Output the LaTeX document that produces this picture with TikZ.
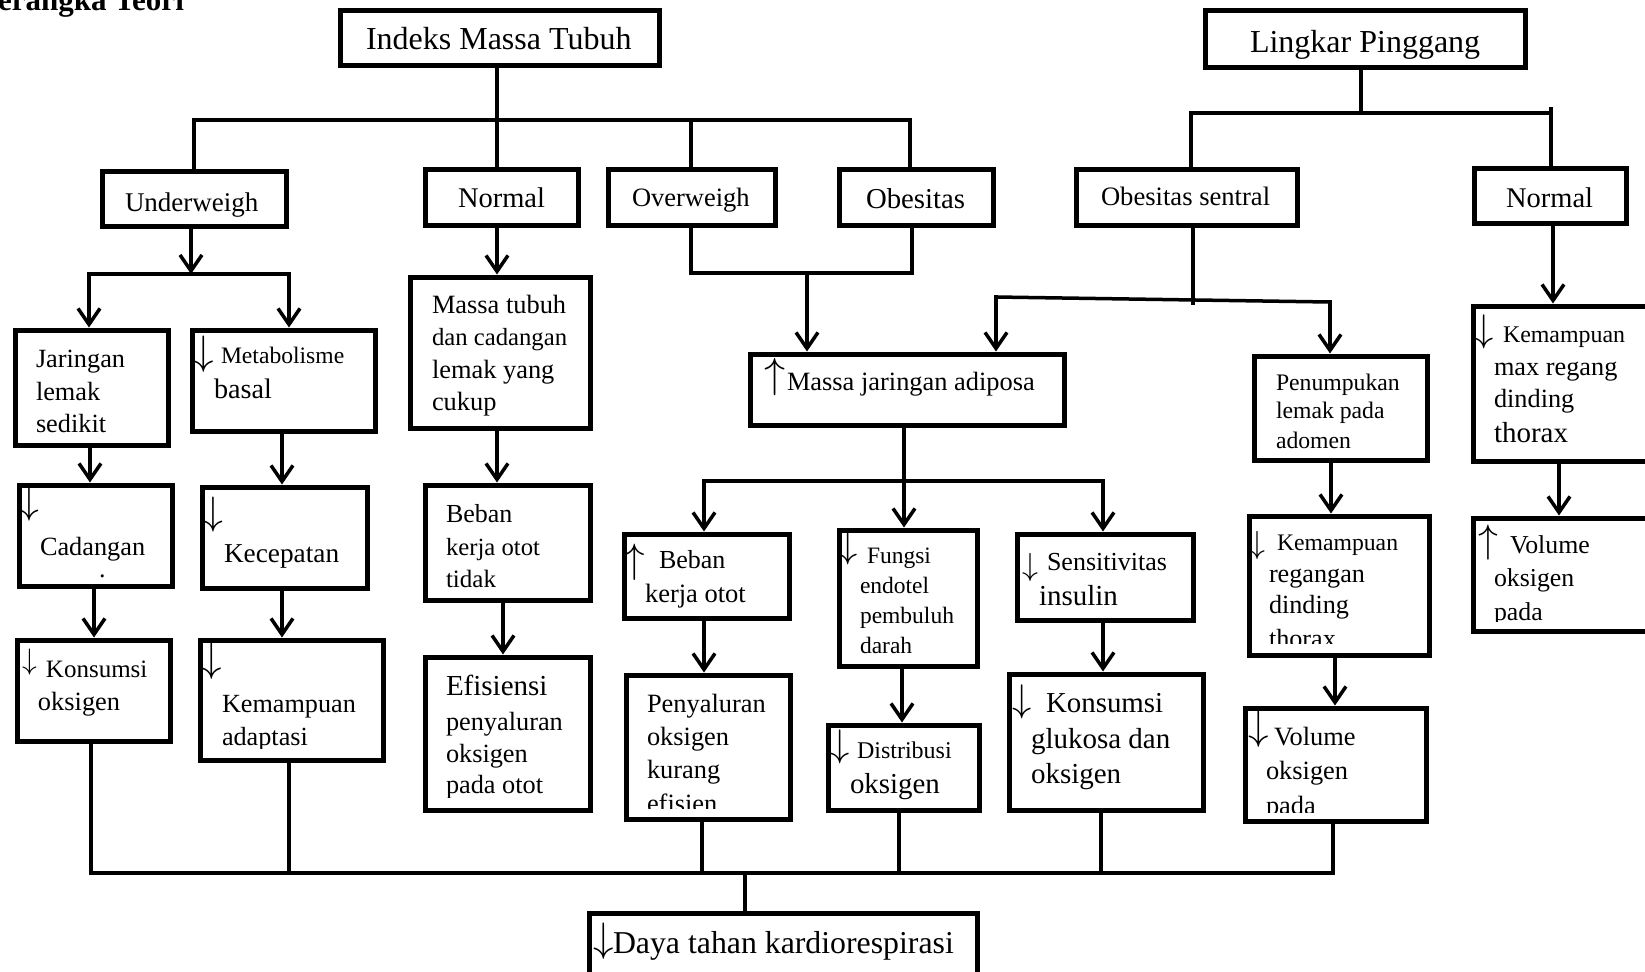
\documentclass[tikz,border=0pt]{standalone}
\usepackage{fix-cm}
\usepackage{fontspec}
\setmainfont{Liberation Serif}
\usetikzlibrary{arrows.meta,fit}
\newcounter{tn}
\newcommand\txl[4]{\stepcounter{tn}\node[tx,font=\fontsize{#3}{#3}\selectfont] (t\arabic{tn}) at (#1,#2) {#4};}
\newcommand\sym[4]{\stepcounter{tn}\pgfmathsetmacro\symsz{#3*1.14}\node[sa,font=\fontsize{\symsz}{\symsz}\selectfont] (s\arabic{tn}) at (#1,#2) {$#4$};}
\newcommand\bxn[5]{\node[bx,fit={(#2,#3) (#4,#5)}] (#1) {};}
\begin{document}
\begin{tikzpicture}[x=0.5pt,y=-0.5pt,
  bx/.style={draw, line width=2.5pt, inner sep=0pt, rectangle},
  ln/.style={line width=1.75pt, line cap=rect},
  ar/.style={ln, -{Straight Barb[length=8pt,width=11pt]}},
  tx/.style={anchor=base west, inner sep=0pt, outer sep=0pt},
  sa/.style={inner sep=0pt, outer sep=0pt}]
\clip (0,0) rectangle (1645,971);
\fill[white] (0,0) rectangle (1645,971);
\txl{-26}{10}{15.5}{\bfseries Kerangka Teori}
% boxes
\bxn{imt}{340}{10}{659}{65}
\bxn{lp}{1205}{10}{1525}{67}
\bxn{under}{102}{171}{286}{226}
\bxn{norma}{425}{169}{578}{225}
\bxn{over}{608}{169}{775}{225}
\bxn{obes}{839}{169}{993}{225}
\bxn{osen}{1076}{169}{1297}{225}
\bxn{normb}{1474}{168}{1626}{223}
\bxn{jar}{15}{330}{168}{445}
\bxn{meta}{192}{330}{375}{431}
\bxn{massa}{410}{277}{590}{428}
\bxn{cad}{19}{485}{172}{586}
\bxn{kec}{202}{487}{367}{588}
\bxn{btid}{425}{485}{590}{600}
\bxn{konsa}{17}{640}{170}{741}
\bxn{kemad}{200}{640}{383}{760}
\bxn{efis}{425}{657}{590}{810}
\bxn{adip}{750}{354}{1064}{425}
\bxn{bebb}{624}{534}{789}{618}
\bxn{fung}{839}{530}{977}{666}
\bxn{sens}{1017}{534}{1193}{620}
\bxn{peny}{626}{675}{790}{819}
\bxn{dist}{828}{725}{979}{810}
\bxn{kglu}{1009}{674}{1203}{810}
\bxn{daya}{589}{913}{977}{1010}
\bxn{penu}{1254}{356}{1427}{460}
\bxn{kemreg}{1249}{516}{1429}{655}
\bxn{vola}{1245}{708}{1426}{821}
\bxn{kemmax}{1473}{306}{1700}{461}
\bxn{volb}{1473}{518}{1700}{631}
% IMT tree
\draw[ln] (497,0 |- imt.south) -- (497,120);
\draw[ln] (194,0 |- under.north) |- (910,120) -- (910,0 |- obes.north);
\draw[ln] (497,0 |- norma.north) -- (497,120);
\draw[ln] (691,0 |- over.north) -- (691,120);
% underweigh
\draw[ar] (191,0 |- under.south) -- (191,274);
\draw[ar] (191,274) -| (89,0 |- jar.north);
\draw[ar] (191,274) -| (289,0 |- meta.north);
\draw[ar] (90,0 |- jar.south) -- (90,0 |- cad.north);
\draw[ar] (94,0 |- cad.south) -- (94,0 |- konsa.north);
\draw[ar] (282,0 |- meta.south) -- (282,0 |- kec.north);
\draw[ar] (282,0 |- kec.south) -- (282,0 |- kemad.north);
% normal
\draw[ar] (497,0 |- norma.south) -- (497,0 |- massa.north);
\draw[ar] (497,0 |- massa.south) -- (497,0 |- btid.north);
\draw[ar] (503,0 |- btid.south) -- (503,0 |- efis.north);
% bottom bus
\draw[ln] (91,0 |- konsa.south) |- (1333,873) -- (1333,0 |- vola.south);
\draw[ln] (289,0 |- kemad.south) -- (289,873);
\draw[ln] (702,0 |- peny.south) -- (702,873);
\draw[ln] (899,0 |- dist.south) -- (899,873);
\draw[ln] (1101,0 |- kglu.south) -- (1101,873);
\draw[ln] (745,873) -- (745,0 |- daya.north);
% overweigh / obesitas
\draw[ln] (691,0 |- over.south) |- (912,273) -- (912,0 |- obes.south);
\draw[ar] (807,273) -- (807,0 |- adip.north);
% obesitas sentral
\draw[ln] (1193,0 |- osen.south) -- (1193,303);
\draw[ln] (996,297) -- (1330,302);
\draw[ar] (996,297) -- (996,0 |- adip.north);
\draw[ar] (1330,302) -- (1330,0 |- penu.north);
% adiposa
\draw[ln] (904,0 |- adip.south) -- (904,481);
\draw[ln] (704,481) -- (1103,481);
\draw[ar] (704,481) -- (704,0 |- bebb.north);
\draw[ar] (904,481) -- (904,0 |- fung.north);
\draw[ar] (1103,481) -- (1103,0 |- sens.north);
\draw[ar] (704,0 |- bebb.south) -- (704,0 |- peny.north);
\draw[ar] (902,0 |- fung.south) -- (902,0 |- dist.north);
\draw[ar] (1103,0 |- sens.south) -- (1103,0 |- kglu.north);
\draw[ar] (1331,0 |- penu.south) -- (1331,0 |- kemreg.north);
\draw[ar] (1335,0 |- kemreg.south) -- (1335,0 |- vola.north);
% lingkar pinggang
\draw[ln] (1361,0 |- lp.south) -- (1361,113);
\draw[ln] (1191,0 |- osen.north) |- (1551,113);
\draw[ln] (1551,109) -- (1551,0 |- normb.north);
\draw[ar] (1553,0 |- normb.south) -- (1553,0 |- kemmax.north);
\draw[ar] (1559,0 |- kemmax.south) -- (1559,0 |- volb.north);
% texts
\txl{366}{49}{16}{Indeks Massa Tubuh}
\txl{1250}{52}{16}{Lingkar Pinggang}
\txl{125}{211}{13.5}{Underweigh}
\txl{458}{207}{14.25}{Normal}
\txl{632}{206}{13.25}{Overweigh}
\txl{866}{208}{14.4}{Obesitas}
\txl{1101}{205}{13.3}{Obesitas sentral}
\txl{1506}{207}{14.25}{Normal}
\txl{36}{367}{13.15}{Jaringan}
\txl{36}{400}{13.15}{lemak}
\txl{36}{432}{13.15}{sedikit}
\sym{203.5}{354}{18}{\downarrow}
\txl{221}{363}{11.8}{Metabolisme}
\txl{214}{398}{14.1}{basal}
\txl{432}{313}{13.2}{Massa tubuh}
\txl{432}{345}{12.35}{dan cadangan}
\txl{432}{378}{13.2}{lemak yang}
\txl{432}{410}{13.2}{cukup}
\sym{29.5}{503.5}{17.4}{\downarrow}
\txl{40}{555}{13.15}{Cadangan}
\txl{99}{577}{13}{.}
\sym{213.5}{514.5}{17.4}{\downarrow}
\txl{224}{562}{13.65}{Kecepatan}
\txl{446}{522}{13}{Beban}
\txl{446}{555}{12.35}{kerja otot}
\txl{446}{587}{12.5}{tidak}
\sym{29.5}{662.5}{13}{\downarrow}
\txl{46}{677}{12.5}{Konsumsi}
\txl{38}{710}{13.2}{oksigen}
\sym{212}{661}{18}{\downarrow}
\txl{222}{712}{13.1}{Kemampuan}
\begin{scope}
\clip (200,640) rectangle (383,748);
\txl{222}{745}{13.1}{adaptasi}
\end{scope}
\txl{446}{695}{14.5}{Efisiensi}
\txl{446}{730}{13.15}{penyaluran}
\txl{446}{762}{13.15}{oksigen}
\begin{scope}
\clip (425,657) rectangle (590,797);
\txl{446}{793}{13.15}{pada otot}
\end{scope}
\sym{775}{376.5}{18.5}{\uparrow}
\txl{787}{390}{13.2}{Massa jaringan adiposa}
\sym{634.5}{562}{18}{\uparrow}
\txl{659}{568}{13}{Beban}
\txl{645}{602}{13.25}{kerja otot}
\sym{848.5}{548}{16.9}{\downarrow}
\txl{867}{563}{11.75}{Fungsi}
\txl{860}{593}{11.75}{endotel}
\txl{860}{623}{11.75}{pembuluh}
\txl{860}{653}{11.75}{darah}
\sym{1030}{567.5}{14}{\downarrow}
\txl{1047}{570}{13}{Sensitivitas}
\txl{1039}{605}{14.5}{insulin}
\txl{647}{712}{13.2}{Penyaluran}
\txl{647}{745}{13.2}{oksigen}
\txl{647}{778}{13.2}{kurang}
\begin{scope}
\clip (626,675) rectangle (790,808);
\txl{647}{812}{13.2}{efisien}
\end{scope}
\sym{840}{747}{16.9}{\downarrow}
\txl{857}{758}{12}{Distribusi}
\txl{850}{793}{14.45}{oksigen}
\sym{1022}{702}{16.9}{\downarrow}
\txl{1046}{712}{14.45}{Konsumsi}
\txl{1031}{748}{14.5}{glukosa dan}
\txl{1031}{783}{14.5}{oksigen}
\sym{604}{941}{18}{\downarrow}
\txl{613}{953}{15.9}{Daya tahan kardiorespirasi}
\txl{1276}{390}{11.85}{Penumpukan}
\txl{1276}{418}{11.85}{lemak pada}
\txl{1276}{448}{11.85}{adomen}
\sym{1484}{332}{16.9}{\downarrow}
\txl{1503}{342}{11.95}{Kemampuan}
\txl{1494}{375}{13.15}{max regang}
\txl{1494}{407}{13.15}{dinding}
\txl{1494}{442}{14.5}{thorax}
\sym{1257}{545.5}{14}{\downarrow}
\txl{1277}{550}{11.85}{Kemampuan}
\txl{1269}{582}{13.1}{regangan}
\txl{1269}{613}{13.1}{dinding}
\begin{scope}
\clip (1249,516) rectangle (1429,643);
\txl{1269}{647}{13.1}{thorax}
\end{scope}
\sym{1488.5}{542.5}{17.4}{\uparrow}
\txl{1510}{553}{12.9}{Volume}
\txl{1494}{586}{12.9}{oksigen}
\begin{scope}
\clip (1473,518) rectangle (1700,621);
\txl{1494}{620}{12.9}{pada}
\end{scope}
\sym{1258.5}{729}{18}{\downarrow}
\txl{1274}{745}{13.2}{Volume}
\txl{1266}{779}{13.2}{oksigen}
\begin{scope}
\clip (1245,708) rectangle (1426,812);
\txl{1266}{814}{13.2}{pada}
\end{scope}
\end{tikzpicture}
\end{document}
